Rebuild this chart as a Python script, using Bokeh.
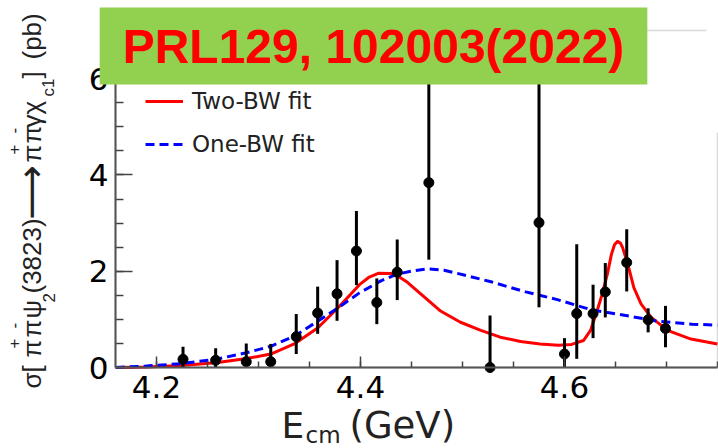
import math
import numpy as np
from bokeh.plotting import figure
from bokeh.models import Label, Legend, LegendItem, FixedTicker, BoxAnnotation
from bokeh.embed import file_html
from bokeh.resources import INLINE

# Measured cross sections sigma(e+e- -> pi+ pi- psi2(3823)) in pb
energy = [4.226, 4.258, 4.288, 4.312, 4.337, 4.358, 4.377, 4.396, 4.416, 4.436,
          4.467, 4.527, 4.575, 4.600, 4.612, 4.628, 4.640, 4.661, 4.682, 4.699]
xsec = [0.17, 0.15, 0.12, 0.12, 0.64, 1.13, 1.53, 2.42, 1.35, 1.98,
        3.84, 0.00, 3.01, 0.28, 1.12, 1.12, 1.57, 2.18, 0.99, 0.81]
xsec_upper = [0.43, 0.40, 0.50, 0.49, 1.11, 1.68, 2.23, 3.25, 1.85, 2.66,
              6.30, 1.08, 6.20, 0.61, 2.56, 1.72, 2.17, 2.87, 1.23, 1.28]
xsec_lower = [0.00, 0.00, 0.00, 0.00, 0.28, 0.70, 0.97, 1.71, 0.90, 1.40,
              2.24, 0.00, 1.25, 0.00, 0.18, 0.61, 1.04, 1.58, 0.73, 0.42]

# Two-BW fit curve
two_bw_e = [4.160, 4.190, 4.224, 4.258, 4.287, 4.312, 4.335, 4.358, 4.378, 4.399,
            4.408, 4.418, 4.430, 4.438, 4.446, 4.459, 4.478, 4.498, 4.518, 4.537,
            4.557, 4.576, 4.594, 4.607, 4.6186, 4.6255, 4.632, 4.637, 4.642, 4.646,
            4.649, 4.652, 4.655, 4.657, 4.662, 4.668, 4.675, 4.685, 4.701, 4.724,
            4.750]
two_bw_sigma = [0.00, 0.01, 0.04, 0.10, 0.18, 0.28, 0.49, 0.82, 1.24, 1.72,
                1.87, 1.96, 1.95, 1.88, 1.77, 1.53, 1.18, 0.94, 0.77, 0.63,
                0.54, 0.49, 0.46, 0.48, 0.56, 0.77, 1.18, 1.53, 1.94, 2.35,
                2.55, 2.62, 2.58, 2.49, 2.15, 1.66, 1.32, 1.04, 0.77, 0.59,
                0.49]

# One-BW fit curve
one_bw_e = [4.160, 4.190, 4.224, 4.258, 4.287, 4.312, 4.335, 4.358, 4.378, 4.399,
            4.420, 4.436, 4.452, 4.467, 4.482, 4.496, 4.528, 4.562, 4.593, 4.626,
            4.660, 4.692, 4.725, 4.750]
one_bw_sigma = [0.00, 0.03, 0.08, 0.17, 0.30, 0.44, 0.65, 0.96, 1.24, 1.55,
                1.80, 1.94, 2.01, 2.05, 2.02, 1.95, 1.78, 1.57, 1.41, 1.20,
                1.08, 0.96, 0.90, 0.88]

x_ticks = [4.2, 4.4, 4.6]
y_ticks = [0, 2, 4, 6]

# visible plot box (data) and where it sits on the canvas (pixels)
X0, X1 = 4.1598, 4.75
Y0, Y1 = 0.0, 7.0
W, H = 718, 448
LEFT, RIGHT, TOP, BOTTOM = 115, 717, 30, 367

# the frame spans the whole canvas; extend the ranges accordingly
sx = (X1 - X0) / (RIGHT - LEFT)
sy = (Y1 - Y0) / (BOTTOM - TOP)
XA, XB = X0 - LEFT * sx, X1 + (W - RIGHT) * sx
YA, YB = Y0 - (H - BOTTOM) * sy, Y1 + TOP * sy

# labels are anchored at their middle; the baseline sits this far below it
BASE = 0.41


def px_x(px):
    return XA + px * sx


def px_y(py):
    return YB - py * sy


p = figure(width=W, height=H, x_range=(XA, XB), y_range=(YA, YB),
           output_backend="svg", toolbar_location=None,
           min_border_left=0, min_border_right=0,
           min_border_top=0, min_border_bottom=0)
p.background_fill_color = "white"
p.border_fill_color = "white"
p.grid.visible = False
p.outline_line_color = None

# plot box outline
p.add_layout(BoxAnnotation(left=X0, right=X1, bottom=Y0, top=Y1,
                           fill_alpha=0, line_color="#808080", line_width=1.5))
# blank corner at the top right
p.add_layout(BoxAnnotation(left=px_x(706), right=px_x(W + 5), top=px_y(-5),
                           bottom=px_y(132), fill_color="white", fill_alpha=1,
                           line_color=None))

p.xaxis.ticker = FixedTicker(ticks=x_ticks,
                             minor_ticks=list(np.round(np.arange(4.15, 4.76, 0.05), 3)))
p.yaxis.ticker = FixedTicker(ticks=y_ticks,
                             minor_ticks=list(np.arange(0, 7.01, 0.5)))
p.xaxis.fixed_location = Y0
p.xaxis.bounds = (X0, X1)
p.yaxis.fixed_location = X0
p.yaxis.bounds = (Y0, Y1)

for ax in (p.xaxis[0], p.yaxis[0]):
    ax.axis_line_color = "#444444"
    ax.axis_line_width = 2
    ax.major_tick_line_color = "#444444"
    ax.minor_tick_line_color = "#444444"
    ax.major_tick_line_width = 1.5
    ax.minor_tick_line_width = 1.5
    ax.major_tick_out = 0
    ax.minor_tick_out = 0
    ax.major_label_text_font = "DejaVu Sans"
    ax.major_label_text_font_size = "31px"
    ax.major_label_text_color = "black"

p.yaxis.major_tick_in = 17
p.yaxis.minor_tick_in = 8
p.yaxis.major_label_standoff = 7
p.xaxis.major_tick_in = 11
p.xaxis.minor_tick_in = 6
p.xaxis.major_label_standoff = 8

# fit curves
r_two = p.line(two_bw_e, two_bw_sigma, line_color="#ff0000", line_width=3)
r_one = p.line(one_bw_e, one_bw_sigma, line_color="#0000ff", line_width=3,
               line_dash="9 5")

# data with error bars
p.segment(energy, xsec_lower, energy, xsec_upper, line_color="black", line_width=3)
p.scatter(energy, xsec, size=10, fill_color="black", line_color="black")

legend = Legend(items=[LegendItem(label="Two-BW fit", renderers=[r_two]),
                       LegendItem(label="One-BW fit", renderers=[r_one])],
                location=(145, H - 157), orientation="vertical",
                background_fill_alpha=0, border_line_color=None,
                padding=0, margin=0, spacing=17,
                glyph_width=38, glyph_height=26, label_height=26,
                label_standoff=9, label_text_font="DejaVu Sans",
                label_text_font_size="23px", label_text_color="#222222")
p.add_layout(legend)

# y-axis title, built piece by piece for the sub/superscripts
# (text, font, size, baseline x, start y)
LS = "Liberation Sans"
ypieces = [
    ("σ[", LS, 26, 42, 388),
    ("π", LS, 26, 42, 357), ("+", LS, 17, 20, 348),
    ("π", LS, 26, 42, 337), ("-", LS, 17, 20, 328),
    ("ψ", LS, 26, 42, 318), ("2", LS, 17, 55, 302),
    ("(3823)", LS, 26, 42, 293),
    ("⟶", "DejaVu Sans", 38, 46, 219),
    ("π", LS, 26, 42, 162), ("+", LS, 17, 20, 154),
    ("π", LS, 26, 42, 143), ("-", LS, 17, 20, 133),
    ("γχ", LS, 26, 42, 127), ("c1", LS, 17, 55, 96),
    ("]", LS, 26, 42, 78),
    ("(pb)", LS, 26, 42, 59),
]
for txt, font, size, bx, by in ypieces:
    p.add_layout(Label(x=px_x(bx - BASE * size), y=px_y(by), text=txt,
                       angle=math.pi / 2, text_align="left", text_baseline="middle",
                       text_font=font, text_font_size=f"{size}px",
                       text_color="#222222"))

# x-axis title (text, size, start x, baseline y)
xpieces = [
    ("E", 36, 281, 440),
    ("cm", 23, 305, 444),
    ("(GeV)", 37, 349, 440),
]
for txt, size, bx, by in xpieces:
    p.add_layout(Label(x=px_x(bx), y=px_y(by - BASE * size), text=txt,
                       text_align="left", text_baseline="middle",
                       text_font="DejaVu Sans", text_font_size=f"{size}px",
                       text_color="#222222"))

# reference banner
p.add_layout(Label(x=px_x(373), y=px_y(45.5), text="PRL129, 102003(2022)",
                   text_align="center", text_baseline="middle",
                   text_font="Liberation Sans", text_font_style="bold",
                   text_font_size="48px", text_color="#ff0000",
                   background_fill_color="#92d050", padding=(23, 12)))

open("out.html", "w").write(file_html(p, INLINE))
